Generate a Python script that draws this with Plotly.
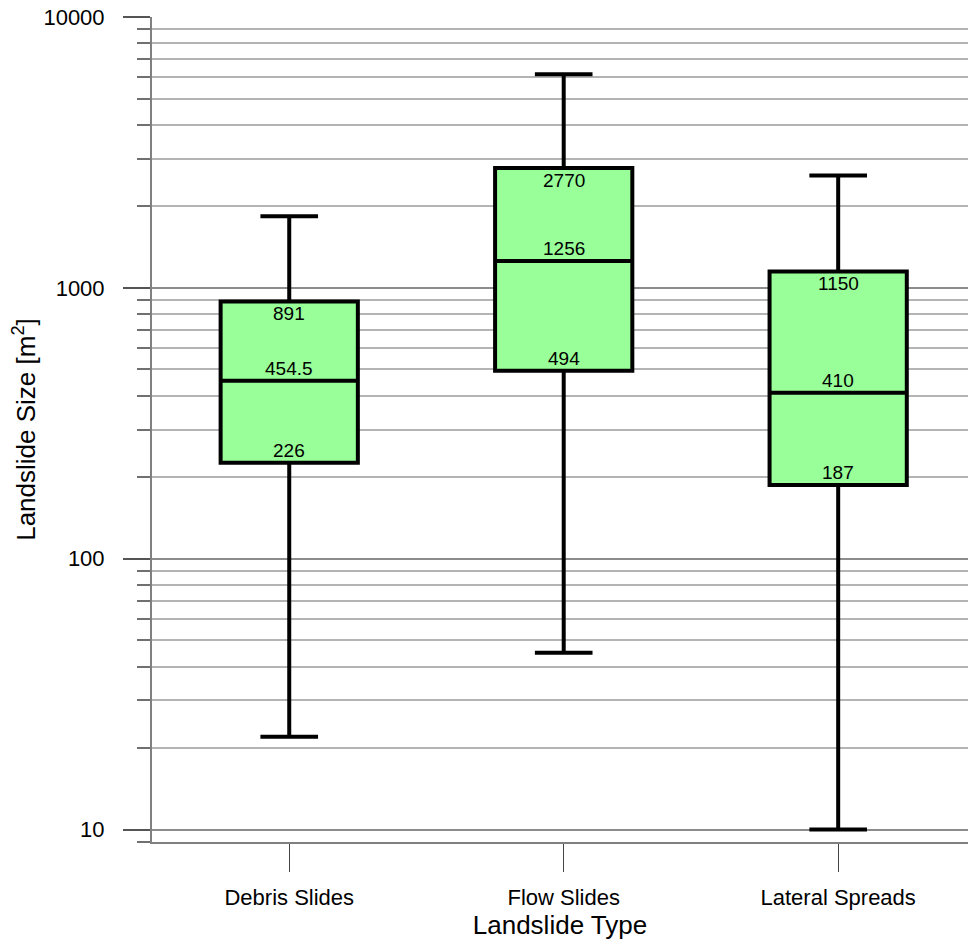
import math
import plotly.graph_objects as go

categories = ["Debris Slides", "Flow Slides", "Lateral Spreads"]
q1_vals = [226, 494, 187]
median_vals = [454.5, 1256, 410]
q3_vals = [891, 2770, 1150]
min_vals = [22, 45, 10]
max_vals = [1840, 6150, 2600]
y_tick_vals = [10, 100, 1000, 10000]
y_tick_text = ["10", "100", "1000", "10000"]

fig = go.Figure()
fig.add_trace(go.Box(
    x=categories,
    q1=q1_vals,
    median=median_vals,
    q3=q3_vals,
    lowerfence=min_vals,
    upperfence=max_vals,
    width=0.5,
    whiskerwidth=0.42,
    fillcolor="#99FF99",
    line=dict(color="black", width=4),
    boxpoints=False,
    showlegend=False,
))

def fmt(v):
    return ("%g" % v)

ann_font = dict(family="Liberation Sans, Arial, sans-serif", size=19, color="black")
for c, a, m, b in zip(categories, q1_vals, median_vals, q3_vals):
    fig.add_annotation(x=c, y=math.log10(b), text=fmt(b), showarrow=False,
                       yanchor="top", yshift=0, font=ann_font)
    fig.add_annotation(x=c, y=math.log10(m), text=fmt(m), showarrow=False,
                       yanchor="bottom", yshift=0, font=ann_font)
    fig.add_annotation(x=c, y=math.log10(a), text=fmt(a), showarrow=False,
                       yanchor="bottom", yshift=0, font=ann_font)

fig.update_layout(
    width=968, height=945,
    margin=dict(l=152, r=0, t=17, b=103),
    plot_bgcolor="white", paper_bgcolor="white",
    font=dict(family="Liberation Sans, Arial, sans-serif", color="black"),
    xaxis=dict(
        range=[-0.5, 2.473],
        showline=True, linecolor="#808080", linewidth=2,
        ticks="outside", ticklen=28, tickcolor="#444444", tickwidth=1,
        tickfont=dict(size=22), ticklabelstandoff=7,
        showgrid=False, zeroline=False,
        title=dict(text="Landslide Type", font=dict(size=26), standoff=6),
    ),
    yaxis=dict(
        type="log",
        range=[math.log10(9), 4],
        tickvals=y_tick_vals, ticktext=y_tick_text,
        showline=True, linecolor="#808080", linewidth=2,
        ticks="outside", ticklen=27, tickcolor="#555555", tickwidth=2,
        tickfont=dict(size=22), ticklabelstandoff=14,
        showgrid=True, gridcolor="#8c8c8c", gridwidth=1.5,
        zeroline=False,
        minor=dict(dtick="D1", ticks="outside", ticklen=13, tickcolor="#707070",
                   tickwidth=2, showgrid=True, gridcolor="#b4b4b4", gridwidth=1.5),
        title=dict(text="Landslide Size [m<sup>2</sup>]", font=dict(size=26), standoff=0),
    ),
)

fig.write_html("out.html")
